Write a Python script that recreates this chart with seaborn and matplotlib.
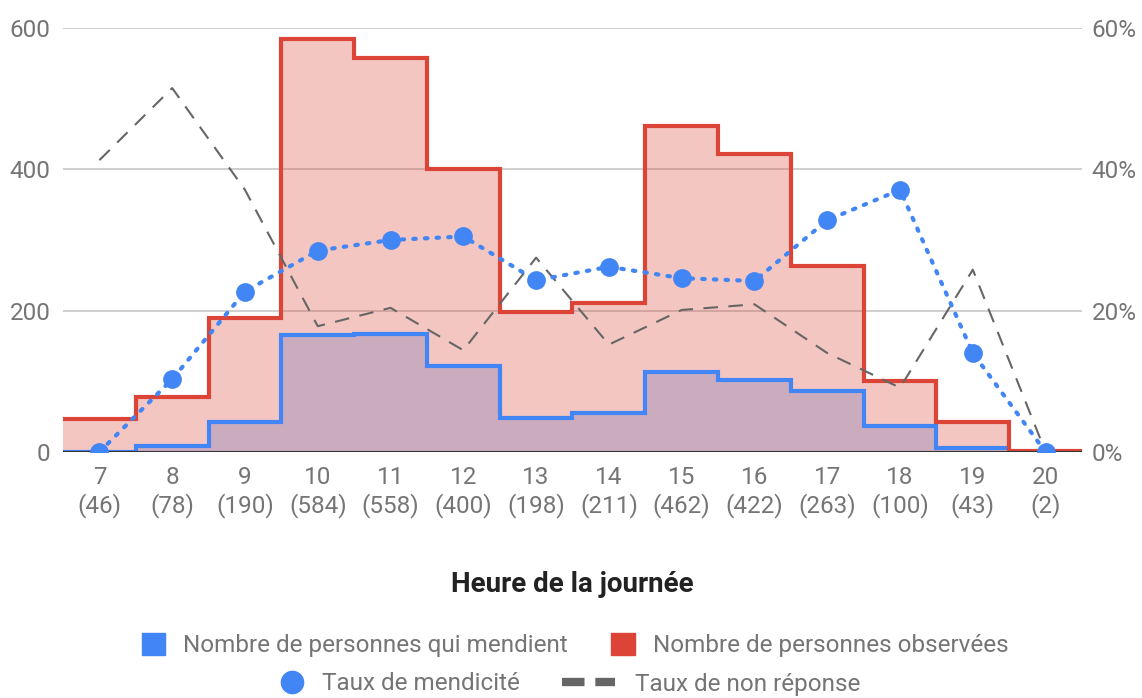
import numpy as np
import pandas as pd
import seaborn as sns
import matplotlib.pyplot as plt
from matplotlib.lines import Line2D
from matplotlib.patches import Patch

# Data
heures = [7, 8, 9, 10, 11, 12, 13, 14, 15, 16, 17, 18, 19, 20]
observees = [46, 78, 190, 584, 558, 400, 198, 211, 462, 422, 263, 100, 43, 2]
mendient = [0, 8, 43, 166, 167, 122, 48, 55, 113, 102, 86, 37, 6, 0]
taux_mendicite = [0.0, 0.103, 0.227, 0.285, 0.300, 0.305, 0.243, 0.262,
                  0.246, 0.242, 0.328, 0.371, 0.140, 0.0]
taux_non_reponse = [0.413, 0.515, 0.371, 0.178, 0.204, 0.144, 0.275, 0.152,
                    0.201, 0.209, 0.140, 0.091, 0.258, 0.0]

df = pd.DataFrame({'pos': np.arange(len(heures)), 'heure': heures,
                   'observees': observees, 'mendient': mendient,
                   'taux_m': taux_mendicite, 'taux_nr': taux_non_reponse})

sns.set_theme(style='white')
plt.rcParams['font.family'] = ['Roboto', 'DejaVu Sans']

BLUE = '#4285f4'
RED = '#db4437'
GREY_TXT = '#757575'
FS = 17.5

fig = plt.figure(figsize=(11.42, 6.98), dpi=100)
ax = fig.add_axes([63 / 1142, 1 - 452 / 698, (1082 - 63) / 1142, (452 - 28) / 698])

edges = np.arange(len(heures) + 1) - 0.5

# Stepped areas: blue first, red fill over it, then the outlines
ax.stairs(df['mendient'], edges, fill=True, color=BLUE, alpha=0.3, linewidth=0, zorder=2)
ax.stairs(df['observees'], edges, fill=True, color=RED, alpha=0.3, linewidth=0, zorder=2)
ax.stairs(df['mendient'], edges, baseline=None, color=BLUE, linewidth=3, zorder=3)
ax.stairs(df['observees'], edges, baseline=None, color=RED, linewidth=3, zorder=3)

ax.set_xlim(-0.5, len(heures) - 0.5)
ax.set_ylim(0, 600)
ax.set_yticks([0, 200, 400, 600])
ax.set_xticks(df['pos'])
ax.set_xticklabels([f'{h}\n({n})' for h, n in zip(heures, observees)])
ax.grid(axis='y', color='#cccccc', linewidth=1.3, zorder=0)
ax.set_axisbelow(True)
ax.axhline(0, color='#333333', linewidth=1.5, zorder=4)
for s in ax.spines.values():
    s.set_visible(False)
ax.tick_params(axis='both', colors=GREY_TXT, labelsize=FS, length=0)
ax.tick_params(axis='x', pad=10)
ax.tick_params(axis='y', pad=9)
ax.set_xlabel('')
ax.set_ylabel('')

# Rates on the right axis
ax2 = ax.twinx()
sns.lineplot(data=df, x='pos', y='taux_nr', ax=ax2, color='#666666',
             linewidth=1.5, dashes=False, zorder=5)
ax2.lines[-1].set_dashes([7, 5])
sns.lineplot(data=df, x='pos', y='taux_m', ax=ax2, color=BLUE,
             linewidth=3, marker='o', markersize=13.5, markeredgewidth=0, zorder=6)
ax2.lines[-1].set_linestyle((0, (0.6, 2.2)))
ax2.lines[-1].set_dash_capstyle('round')
ax2.set_ylim(0, 0.6)
ax2.set_yticks([0, 0.2, 0.4, 0.6])
ax2.set_yticklabels(['0%', '20%', '40%', '60%'])
ax2.tick_params(axis='y', colors=GREY_TXT, labelsize=FS, length=0, pad=7)
ax2.set_xlabel('')
ax2.set_ylabel('')
for s in ax2.spines.values():
    s.set_visible(False)
ax2.grid(False)

fig.text(0.501, 1 - 585 / 698, 'Heure de la journée', ha='center', va='center',
         fontsize=20, fontweight='bold', color='#222222')

leg_kw = dict(loc='center', frameon=False, fontsize=FS, labelcolor=GREY_TXT,
              borderaxespad=0, borderpad=0)
row1 = [Patch(facecolor=BLUE, edgecolor=BLUE), Patch(facecolor=RED, edgecolor=RED)]
fig.legend(row1, ['Nombre de personnes qui mendient', 'Nombre de personnes observées'],
           bbox_to_anchor=(575 / 1142, 1 - 645 / 698), ncol=2,
           handlelength=0.95, handleheight=1.0, handletextpad=0.75, columnspacing=1.8, **leg_kw)
fig.legend([Line2D([], [], color=BLUE, marker='o', markersize=16, linestyle='none')],
           ['Taux de mendicité'], bbox_to_anchor=(400 / 1142, 1 - 684 / 698),
           handlelength=1.0, handletextpad=0.75, **leg_kw)
fig.legend([Line2D([], [], color='#666666', linewidth=6, linestyle=(0, (2.7, 1.3)))],
           ['Taux de non réponse'], bbox_to_anchor=(711 / 1142, 1 - 684 / 698),
           handlelength=2.2, handletextpad=0.8, **leg_kw)

fig.savefig('out.png', dpi=100)
